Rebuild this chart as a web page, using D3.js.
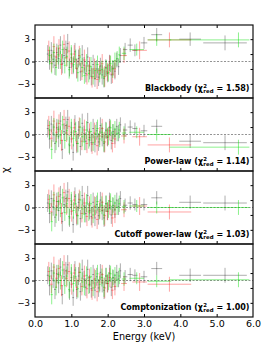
<!DOCTYPE html>
<html><head><meta charset="utf-8">
<script src="https://cdn.jsdelivr.net/npm/d3@7"></script>
<style>body{margin:0;background:#fff}svg{display:block}text{white-space:pre}</style>
</head><body>
<script>
const xTicks = [0,1,2,3,4,5,6];
const yTicksLeft = [-3,0,3];
const yTicksRight = [-3,-1,1,3];
const modelNames = ["Blackbody","Power-law","Cutoff power-law","Comptonization"];
const chi2Values = ["1.58","1.14","1.03","1.00"];

// black data set
const blackE = [0.35,0.40,0.45,0.50,0.55,0.60,0.65,0.70,0.75,0.80,0.85,0.90,0.95,1.00,1.05,1.10,1.15,1.20,1.25,1.30,1.35,1.40,1.45,1.50,1.55,1.60,1.65,1.70,1.75,1.80,1.85,1.90,1.95,2.00,2.05,2.10,2.15,2.20,2.25,2.30,2.35,2.48,2.62,2.75,3.00,3.35,4.27,5.23];
const blackXW = [0.025,0.025,0.025,0.025,0.025,0.025,0.025,0.025,0.025,0.025,0.025,0.025,0.025,0.025,0.025,0.025,0.025,0.025,0.025,0.025,0.025,0.025,0.025,0.025,0.025,0.025,0.025,0.025,0.025,0.025,0.025,0.025,0.025,0.025,0.025,0.025,0.025,0.025,0.025,0.025,0.025,0.06,0.07,0.07,0.09,0.15,0.3,0.6];
const blackErr = [1.2,1.3,1.1,1.2,1.3,1.2,1.4,1.2,1.3,1.1,1.2,1.3,1.2,1.4,1.1,1.2,1.3,1.2,1.2,1.3,1.1,1.2,1.3,1.2,1.2,1.3,1.1,1.2,1.2,1.1,1.3,1.2,1.1,1.2,1.1,1.2,1.0,1.1,1.0,1.1,1.0,0.9,0.9,0.8,0.8,0.9,0.9,1.0];
const blackBB = [1.0,0.2,1.5,0.3,-0.5,1.2,0.4,2.2,-0.3,0.8,1.6,2.4,-0.8,0.5,-0.6,1.3,-1.0,0.4,-1.4,0.9,-0.5,-1.6,0.6,-1.2,-2.0,-0.4,-2.3,-1.0,-2.1,-0.6,-1.8,-2.3,-0.8,-1.6,-0.2,-1.8,-0.9,-1.3,0.2,-0.7,0.8,1.6,2.2,1.5,2.5,3.6,3.0,2.5];
const blackPL = [0.8,-0.6,1.4,0.2,-1.2,0.9,-0.3,1.8,-2.0,0.4,1.2,2.0,-1.5,0.3,-2.4,1.4,-1.2,0.6,-1.6,1.5,0.1,-0.9,1.6,-0.4,-1.1,0.8,-1.3,0.5,-1.0,1.2,-0.3,-1.2,0.6,-0.4,1.0,-0.8,0.4,-0.2,1.1,0.2,1.3,0.6,1.0,0.8,0.5,1.1,-0.9,-1.1];
const blackCPL = [0.6,-0.8,1.2,0.1,-1.3,0.8,-0.4,1.7,-1.9,0.4,1.2,2.1,-1.4,0.4,-2.3,1.5,-1.1,0.7,-1.5,1.6,0.2,-0.8,1.6,-0.4,-1.2,0.7,-1.4,0.4,-1.1,1.0,-0.4,-1.4,0.5,-0.5,0.9,-1.0,0.3,-0.3,1.0,0.1,1.2,0.3,0.6,0.4,0.4,1.3,0.7,0.6];
const blackCOMP = [0.7,-0.7,1.3,0.2,-1.2,0.9,-0.3,1.8,-1.9,0.5,1.3,2.1,-1.4,0.4,-2.3,1.4,-1.2,0.6,-1.5,1.5,0.2,-0.9,1.5,-0.5,-1.1,0.8,-1.3,0.5,-1.0,1.1,-0.3,-1.3,0.6,-0.4,1.0,-0.9,0.4,-0.2,1.1,0.2,1.3,0.5,0.8,0.7,0.5,1.6,0.7,0.7];

// red data set
const redE = [0.38,0.45,0.52,0.59,0.66,0.73,0.80,0.87,0.94,1.01,1.08,1.15,1.22,1.29,1.36,1.43,1.50,1.57,1.64,1.71,1.78,1.85,1.92,1.99,2.06,2.13,2.20,2.45,2.88,3.70];
const redXW = [0.035,0.035,0.035,0.035,0.035,0.035,0.035,0.035,0.035,0.035,0.035,0.035,0.035,0.035,0.035,0.035,0.035,0.035,0.035,0.035,0.035,0.035,0.035,0.035,0.035,0.035,0.035,0.08,0.2,0.6];
const redErr = [1.3,1.2,1.4,1.3,1.2,1.4,1.3,1.2,1.3,1.4,1.2,1.3,1.3,1.2,1.4,1.3,1.2,1.3,1.4,1.3,1.2,1.3,1.4,1.2,1.3,1.2,1.2,1.0,1.2,1.0];
const redBB = [1.5,-0.2,2.0,0.6,1.8,-0.4,2.3,0.5,1.4,-0.3,1.0,-0.9,0.8,-1.3,0.2,-1.8,-0.6,-2.2,-1.0,-2.4,-1.2,-0.3,-2.0,-1.4,-0.5,-1.7,-1.0,0.8,1.5,2.9];
const redPL = [1.2,-0.5,1.8,0.3,1.5,-0.8,2.0,0.2,1.1,-0.6,0.9,-1.0,1.0,-0.9,0.6,-1.2,0.3,-1.3,0.2,-1.5,-0.2,0.8,-1.0,-0.3,0.5,-1.2,-0.6,-0.2,-0.3,-1.4];
const redCPL = [1.1,-0.6,1.7,0.2,1.5,-0.8,2.0,0.2,1.2,-0.5,1.0,-0.9,1.1,-0.8,0.6,-1.2,0.3,-1.4,0.1,-1.6,-0.3,0.7,-1.1,-0.5,0.3,-1.4,-0.9,-0.3,0.2,-0.6];
const redCOMP = [1.2,-0.5,1.8,0.3,1.6,-0.7,2.1,0.3,1.2,-0.5,1.0,-0.9,1.1,-0.8,0.6,-1.1,0.4,-1.3,0.2,-1.5,-0.2,0.8,-1.0,-0.4,0.4,-1.3,-0.8,-0.4,-0.2,-0.5];

// green data set
const greenE = [0.40,0.46,0.52,0.58,0.64,0.70,0.76,0.82,0.88,0.94,1.00,1.06,1.12,1.18,1.24,1.30,1.36,1.42,1.48,1.54,1.60,1.66,1.72,1.78,1.84,1.90,1.96,2.02,2.08,2.14,2.20,2.26,2.32,2.45,2.80,3.35,5.60];
const greenXLo = [0.03,0.03,0.03,0.03,0.03,0.03,0.03,0.03,0.03,0.03,0.03,0.03,0.03,0.03,0.03,0.03,0.03,0.03,0.03,0.03,0.03,0.03,0.03,0.03,0.03,0.03,0.03,0.03,0.03,0.03,0.03,0.03,0.03,0.06,0.2,0.25,1.9];
const greenXHi = [0.03,0.03,0.03,0.03,0.03,0.03,0.03,0.03,0.03,0.03,0.03,0.03,0.03,0.03,0.03,0.03,0.03,0.03,0.03,0.03,0.03,0.03,0.03,0.03,0.03,0.03,0.03,0.03,0.03,0.03,0.03,0.03,0.03,0.06,0.2,0.4,0.3];
const greenErr = [1.2,1.3,1.2,1.1,1.3,1.2,1.2,1.1,1.3,1.2,1.2,1.1,1.3,1.2,1.2,1.3,1.1,1.2,1.2,1.3,1.1,1.2,1.2,1.1,1.2,1.3,1.1,1.2,1.1,1.2,1.1,1.0,1.1,0.9,0.8,0.8,1.0];
const greenBB = [0.8,-0.3,1.2,-0.8,0.9,0.2,1.6,-0.5,0.7,-1.1,1.0,-0.4,0.3,-1.5,0.6,-0.8,-1.9,-0.2,-1.6,-0.7,-2.0,-1.2,-0.4,-1.7,-1.1,-2.1,-0.9,-1.5,-0.3,-1.0,0.1,0.4,0.9,1.1,1.6,2.9,2.9];
const greenPL = [0.6,-2.0,1.0,-1.0,0.7,-0.1,1.3,-0.8,0.5,-1.3,0.9,-0.5,0.4,-1.2,1.0,-0.3,-1.0,0.6,-0.7,0.4,-1.1,0.1,0.8,-0.6,0.3,-1.0,0.5,-0.2,0.9,0.2,0.7,0.1,0.6,0.2,0.3,0.0,-1.7];
const greenCPL = [0.5,-1.9,0.9,-1.0,0.8,-0.1,1.3,-0.7,0.5,-1.2,0.9,-0.4,0.5,-1.1,1.0,-0.2,-0.9,0.6,-0.6,0.5,-1.0,0.2,0.8,-0.5,0.3,-1.0,0.5,-0.2,0.8,0.2,0.6,0.0,0.5,0.1,0.2,0.0,0.0];
const greenCOMP = [0.6,-1.9,1.0,-0.9,0.8,0.0,1.4,-0.7,0.6,-1.2,1.0,-0.4,0.5,-1.1,1.1,-0.2,-0.9,0.7,-0.6,0.5,-1.0,0.2,0.9,-0.5,0.4,-0.9,0.6,-0.1,0.9,0.3,0.7,0.1,0.6,0.2,0.3,-0.1,0.1];

const blackRes = [blackBB, blackPL, blackCPL, blackCOMP];
const redRes = [redBB, redPL, redCPL, redCOMP];
const greenRes = [greenBB, greenPL, greenCPL, greenCOMP];

const W = 273, H = 346;
const left = 35, right = 253, top0 = 25, panelH = 73;
const font = "DejaVu Sans, sans-serif";

const svg = d3.select("body").append("svg").attr("width", W).attr("height", H);
const x = d3.scaleLinear().domain([0, 6]).range([left, right]);

function seriesData(E, lo, hi, err, res) {
  return E.map((e, i) => ({e, lo: lo[i], hi: hi[i], err: err[i], r: res[i]}));
}

const seriesDefs = [
  {color: "#000000", op: 0.32, get: p => seriesData(blackE, blackXW, blackXW, blackErr, blackRes[p])},
  {color: "#ff0000", op: 0.36, get: p => seriesData(redE, redXW, redXW, redErr, redRes[p])},
  {color: "#00e000", op: 0.45, get: p => seriesData(greenE, greenXLo, greenXHi, greenErr, greenRes[p])}
];

for (let p = 0; p < 4; p++) {
  const t = top0 + p * panelH;
  const y = d3.scaleLinear().domain([-4.9, 4.9]).range([t + panelH, t]);
  const g = svg.append("g");
  g.append("clipPath").attr("id", "clip" + p).append("rect")
    .attr("x", left).attr("y", t).attr("width", right - left).attr("height", panelH);
  const plot = g.append("g").attr("clip-path", `url(#clip${p})`);

  plot.append("line").attr("x1", left).attr("x2", right).attr("y1", y(0)).attr("y2", y(0))
    .attr("stroke", "#777").attr("stroke-width", 0.8).attr("stroke-dasharray", "2,1.5");

  seriesDefs.forEach(s => {
    const data = s.get(p);
    const sg = plot.append("g").attr("stroke", s.color).attr("stroke-opacity", s.op).attr("stroke-width", 1);
    sg.selectAll("line.h").data(data).join("line").attr("class", "h")
      .attr("x1", d => x(d.e - d.lo)).attr("x2", d => x(d.e + d.hi))
      .attr("y1", d => y(d.r)).attr("y2", d => y(d.r));
    sg.selectAll("line.v").data(data).join("line").attr("class", "v")
      .attr("x1", d => x(d.e)).attr("x2", d => x(d.e))
      .attr("y1", d => y(d.r - d.err)).attr("y2", d => y(d.r + d.err));
  });

  const la = g.append("g").attr("transform", `translate(${left},0)`)
    .call(d3.axisLeft(y).tickValues(yTicksLeft).tickSize(3).tickPadding(2)
      .tickFormat(d => d < 0 ? "\u2212" + Math.abs(d) : d));
  la.select(".domain").remove();
  la.selectAll("text").attr("font-size", 8.5).attr("font-family", font).attr("fill", "#000");
  la.selectAll("line").attr("stroke", "#000");

  const ra = g.append("g").attr("transform", `translate(${right},0)`)
    .call(d3.axisLeft(y).tickValues(yTicksRight).tickSize(2.5).tickFormat(""));
  ra.select(".domain").remove();
  ra.selectAll("line").attr("stroke", "#000");

  const ba = g.append("g").attr("transform", `translate(0,${t + panelH})`)
    .call(d3.axisTop(x).tickValues(xTicks.slice(1, -1)).tickSize(3).tickFormat(""));
  ba.select(".domain").remove();
  ba.selectAll("line").attr("stroke", "#000");
  if (p === 0) {
    const ta = g.append("g").attr("transform", `translate(0,${t})`)
      .call(d3.axisBottom(x).tickValues(xTicks.slice(1, -1)).tickSize(3).tickFormat(""));
    ta.select(".domain").remove();
    ta.selectAll("line").attr("stroke", "#000");
  }

  g.append("rect").attr("x", left).attr("y", t).attr("width", right - left).attr("height", panelH)
    .attr("fill", "none").attr("stroke", "#111").attr("stroke-width", 1.2);

  // model label with chi^2_red (superscript and subscript stacked)
  const lab = g.append("g");
  const fs = 8;
  const t1 = lab.append("text").attr("x", 0).attr("y", 0).attr("font-family", font)
    .attr("font-weight", "bold").attr("font-size", fs).text(modelNames[p] + " (\u03c7");
  const w1 = t1.node().getComputedTextLength();
  lab.append("text").attr("x", w1 + 0.3).attr("y", -3.5).attr("font-family", font)
    .attr("font-weight", "bold").attr("font-size", 5.4).text("2");
  const sub = lab.append("text").attr("x", w1 + 0.3).attr("y", 2.0).attr("font-family", font)
    .attr("font-weight", "bold").attr("font-size", 5.4).text("red");
  const ws = sub.node().getComputedTextLength();
  const t2 = lab.append("text").attr("x", w1 + ws + 0.6).attr("y", 0).attr("font-family", font)
    .attr("font-weight", "bold").attr("font-size", fs).text(" = " + chi2Values[p] + ")");
  const total = w1 + ws + 0.6 + t2.node().getComputedTextLength();
  lab.attr("transform", `translate(${249.5 - total},${t + panelH - 7})`);

  if (p === 3) {
    const xa = g.append("g").attr("transform", `translate(0,${t + panelH})`)
      .call(d3.axisBottom(x).tickValues(xTicks).tickSize(0).tickPadding(3));
    xa.select(".domain").remove();
    xa.selectAll("text").attr("font-size", 9.5).attr("font-family", font).attr("fill", "#000");
  }
}

svg.append("text").attr("x", 144).attr("y", 340).attr("text-anchor", "middle")
  .attr("font-family", font).attr("font-size", 9.7).text("Energy (keV)");
svg.append("text").attr("transform", "translate(9,170) rotate(-90)").attr("text-anchor", "middle")
  .attr("font-family", font).attr("font-size", 10).text("\u03c7");
</script>
</body></html>
